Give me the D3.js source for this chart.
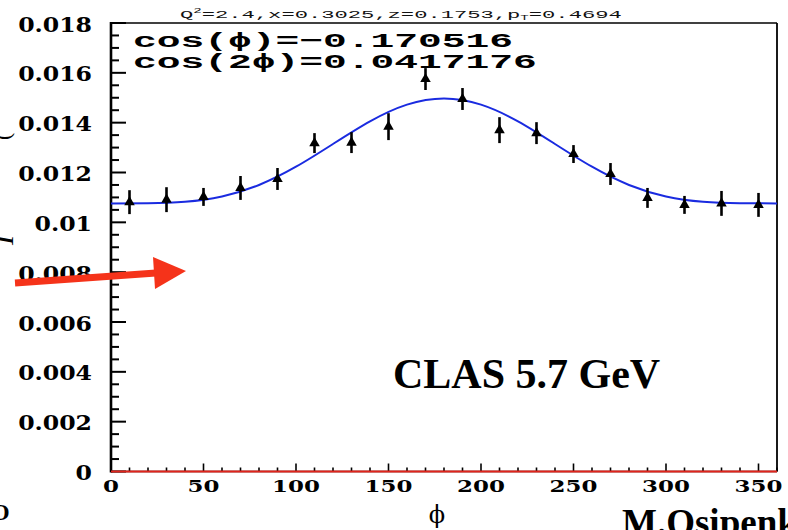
<!DOCTYPE html>
<html><head><meta charset="utf-8">
<script src="https://cdn.jsdelivr.net/npm/d3@7"></script>
<style>html,body{margin:0;padding:0;background:#fff;overflow:hidden}</style>
</head><body>
<svg id="c" width="788" height="530"></svg>
<script>
// ---- data ----
const phiBins = [10,30,50,70,90,110,130,150,170,190,210,230,250,270,290,310,330,350];
const yieldVals = [0.01081,0.01091,0.01102,0.01138,0.01174,0.01318,0.0132,0.01384,0.01575,0.01495,0.0137,0.01358,0.01274,0.01194,0.01098,0.0107,0.01076,0.0107];
const yieldErrs = [0.00048,0.0005,0.00036,0.00048,0.00044,0.0004,0.00042,0.00054,0.00044,0.00044,0.00052,0.00044,0.00036,0.00044,0.0004,0.00036,0.0005,0.00048];
const fitPhi = [0,20,40,60,80,100,120,140,160,180,200,220,240,260,280,300,320,340,360];
const fitVals = [0.010759,0.010766,0.010826,0.011039,0.0115,0.012232,0.013145,0.014053,0.014724,0.014971,0.014724,0.014053,0.013145,0.012232,0.0115,0.011039,0.010826,0.010766,0.010759];
const yTickLabels = ["0","0.002","0.004","0.006","0.008","0.01","0.012","0.014","0.016","0.018"];
const xTickLabels = ["0","50","100","150","200","250","300","350"];
const statLines = ["cos(\u03D5)=\u22120.170516","cos(2\u03D5)=0.0417176"];

const svg = d3.select("#c");
const L=111, R=777, T=23, B=471.5;
const x = d3.scaleLinear().domain([0,360]).range([L,R]);
const y = d3.scaleLinear().domain([0,0.018]).range([B,T]);

// y ticks (inside)
const yMinor = d3.range(0,0.01801,0.0005);
svg.append("g").selectAll("line").data(yMinor).join("line")
  .attr("x1",L).attr("x2",d=> (Math.round(d/0.0005)%4===0)? L+15 : L+8)
  .attr("y1",d=>y(d)).attr("y2",d=>y(d)).attr("stroke","#000").attr("stroke-width",2);
// x ticks (inside, upward)
const xMinor = d3.range(0,361,10);
svg.append("g").selectAll("line").data(xMinor).join("line")
  .attr("x1",d=>x(d)).attr("x2",d=>x(d)).attr("y1",B)
  .attr("y2",d=> d%50===0 ? B-8 : B-4).attr("stroke","#000").attr("stroke-width",1.6);

// frame
svg.append("line").attr("x1",L).attr("x2",R).attr("y1",T).attr("y2",T).attr("stroke","#000").attr("stroke-width",1.6);
svg.append("line").attr("x1",R).attr("x2",R).attr("y1",T).attr("y2",B).attr("stroke","#000").attr("stroke-width",1.8);
svg.append("line").attr("x1",L).attr("x2",L).attr("y1",T-1).attr("y2",B+1).attr("stroke","#000").attr("stroke-width",2.6);
svg.append("line").attr("x1",L).attr("x2",R).attr("y1",B).attr("y2",B).attr("stroke","#000").attr("stroke-width",1.5);
// red zero line
svg.append("line").attr("x1",x(0)).attr("x2",x(360)).attr("y1",y(0)).attr("y2",y(0)).attr("stroke","#e0241c").attr("stroke-width",2);

// y labels
svg.append("g").selectAll("text").data(yTickLabels).join("text")
  .attr("transform",(d,i)=>`translate(92,${y(i*0.002)+8.5}) scale(1.18,1)`)
  .attr("text-anchor","end").attr("font-family","DejaVu Serif").attr("font-weight","bold")
  .attr("font-size",20).text(d=>d);
// x labels
svg.append("g").selectAll("text").data(xTickLabels).join("text")
  .attr("transform",d=>`translate(${x(+d)},492) scale(1.35,1)`)
  .attr("text-anchor","middle").attr("font-family","DejaVu Serif").attr("font-weight","bold")
  .attr("font-size",17).text(d=>d);

// fit curve
svg.append("path").datum(fitPhi.map((p,i)=>[p,fitVals[i]]))
  .attr("d",d3.line().x(d=>x(d[0])).y(d=>y(d[1])).curve(d3.curveNatural))
  .attr("fill","none").attr("stroke","#1a2be0").attr("stroke-width",2);

// error bars & markers
const pts = phiBins.map((p,i)=>({p,v:yieldVals[i],e:yieldErrs[i]}));
svg.append("g").selectAll("line").data(pts).join("line")
  .attr("x1",d=>x(d.p)).attr("x2",d=>x(d.p)).attr("y1",d=>y(d.v-d.e)).attr("y2",d=>y(d.v+d.e))
  .attr("stroke","#000").attr("stroke-width",2.6);
svg.append("g").selectAll("path").data(pts).join("path")
  .attr("transform",d=>`translate(${x(d.p)},${y(d.v)})`)
  .attr("d",d3.symbol(d3.symbolTriangle,48)).attr("fill","#000");

// title
const title = svg.append("text").attr("font-family","Liberation Mono").attr("font-size",11).attr("fill","#111");
title.append("tspan").text("Q");
title.append("tspan").attr("font-size",7).attr("dy",-5).text("2");
title.append("tspan").attr("dy",5).text("=2.4,x=0.3025,z=0.1753,p");
title.append("tspan").attr("font-size",7).attr("dy",2).text("T");
title.append("tspan").attr("dy",-2).text("=0.4694");
const tw = title.node().getComputedTextLength();
title.attr("transform",`translate(180,18) scale(${442/tw},1)`);

// stats
svg.append("g").selectAll("text").data(statLines).join("text")
  .attr("transform",(d,i)=>`translate(133,${47+i*21}) scale(1.98,1)`)
  .attr("font-family","Liberation Mono").attr("font-weight","bold").attr("font-size",20)
  .attr("fill","#000").text(d=>d);

// annotations
svg.append("text").attr("x",437).attr("y",523).attr("text-anchor","middle")
  .attr("font-family","DejaVu Serif").attr("font-size",24).text("\u03D5");
svg.append("text").attr("x",393).attr("y",388).attr("font-family","Liberation Serif")
  .attr("font-weight","bold").attr("font-size",42).text("CLAS 5.7 GeV");
svg.append("text").attr("x",622).attr("y",535).attr("font-family","Liberation Serif")
  .attr("font-weight","bold").attr("font-size",37).text("M.Osipenko");
// cut-off y-axis title fragments
svg.append("text").attr("transform","translate(13,245) rotate(-90)").attr("font-family","Liberation Serif")
  .attr("font-style","italic").attr("font-size",30).text("I");
svg.append("text").attr("transform","translate(10,140) rotate(-90)").attr("font-family","Liberation Serif")
  .attr("font-size",22).text("(");
svg.append("text").attr("x",-9).attr("y",520).attr("font-family","Liberation Serif")
  .attr("font-weight","bold").attr("font-size",24).text("O");

// red arrow
svg.append("line").attr("x1",15).attr("y1",283).attr("x2",156).attr("y2",273)
  .attr("stroke","#f5331a").attr("stroke-width",7);
svg.append("path").attr("d","M153,257 L186,271 L155,289 Z").attr("fill","#f5331a");
</script>
</body></html>
